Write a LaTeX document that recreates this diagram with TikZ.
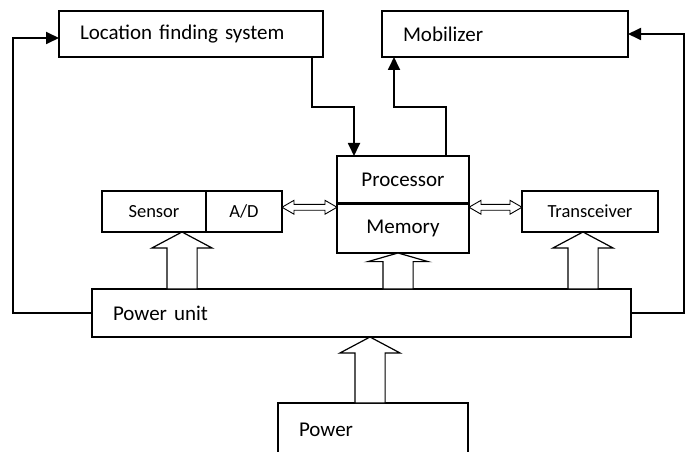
\documentclass[tikz,border=0pt]{standalone}
\usepackage{fontspec}
\setmainfont{Carlito}
\usepackage{tikz}
\usetikzlibrary{shapes}
\usetikzlibrary{shapes.arrows}
\usetikzlibrary{arrows.meta}
\usetikzlibrary{positioning}
\usetikzlibrary{calc}

\begin{document}
\begin{tikzpicture}[
x=1pt, y=-1pt,
>={Triangle[length=13pt,width=12pt]},
squarednode/.style={rectangle, draw=black, line width=1.3pt, inner sep=0pt, outer sep=0pt, font=\fontsize{21}{25}\selectfont},
leftnode/.style={squarednode, anchor=north west, align=left, inner xsep=21pt},
smallnode/.style={squarednode, font=\fontsize{18.5}{22}\selectfont, minimum height=41pt},
cpunode/.style={squarednode, line width=1.6pt, minimum width=132pt},
fat arrow/.style={single arrow, draw=black, fill=white, line width=1.2pt, shape border rotate=90, inner xsep=14.5pt, inner ysep=0pt, single arrow head extend=15pt, single arrow tip angle=124, outer sep=0pt},
thin arrow/.style={double arrow, draw=black, fill=white, line width=0.9pt, inner xsep=0pt, inner ysep=2.5pt, double arrow head extend=4pt, double arrow tip angle=60, outer sep=0pt},
wire/.style={->, line width=1.8pt}
]
\useasboundingbox (0,0) rectangle (689,452);
\clip (0,0) rectangle (689,452);

%Nodes
\node[leftnode, text width=222pt, minimum height=46pt] at (59,11) (LOC) {Location finding system};
\node[leftnode, text width=204pt, minimum height=46pt] at (382,11) (MOB) {Mobilizer};

\node[smallnode, minimum width=104pt, anchor=north west] at (102,191) (SENSOR) {Sensor};
\node[smallnode, minimum width=76pt, right=0pt of SENSOR] (AD) {A/D};

\node[cpunode, minimum height=47pt, anchor=north west] at (337,156) (PROC) {Processor};
\node[cpunode, minimum height=49pt, below=1pt of PROC] (MEM) {Memory};

\node[smallnode, minimum width=136pt, anchor=north west] at (522,191) (TRANS) {Transceiver};

\node[leftnode, text width=497pt, minimum height=48pt] at (92,289) (PU) {Power unit};
\node[leftnode, text width=148pt, minimum height=54pt] at (278,403) (PWR) {Power};

%\node at (3.5,-1.5) [fat arrow]{};
\node[fat arrow, minimum height=57pt, anchor=tip] at ([xshift=-24pt]SENSOR.south east) (SENSOR-UP) {};
\node[fat arrow, minimum height=36pt, single arrow tip angle=148, anchor=tip] at ([xshift=-5pt]MEM.south) (MEM-UP) {};
\node[fat arrow, minimum height=57pt, anchor=tip] at ([xshift=-7pt]TRANS.south) (TRANS-UP) {};
\node[fat arrow, minimum height=66pt, anchor=tail] at ([xshift=-3pt]PWR.north) (PWR-UP) {};

\node[thin arrow, minimum height=55pt] at ($(AD.east)!0.5!(PROC.south west)$) (AD-PROC) {};
\node[thin arrow, minimum height=53pt] at ($(PROC.south east)!0.5!(TRANS.west)$) (PROC-TRANS) {};

%Lines
\draw[wire] (PU.west) -- ++(-79,0) |- ([yshift=-4pt]LOC.west);
\draw[wire] (PU.east) -- ++(53,0) |- (MOB.east);

\draw[wire] ([xshift=-11pt]LOC.south east) -- ++(0,50) -| ([xshift=17pt]PROC.north west);
\draw[wire] ([xshift=-23pt]PROC.north east) -- ++(0,-49) -| ([xshift=12pt]MOB.south west);
\end{tikzpicture}
\end{document}
